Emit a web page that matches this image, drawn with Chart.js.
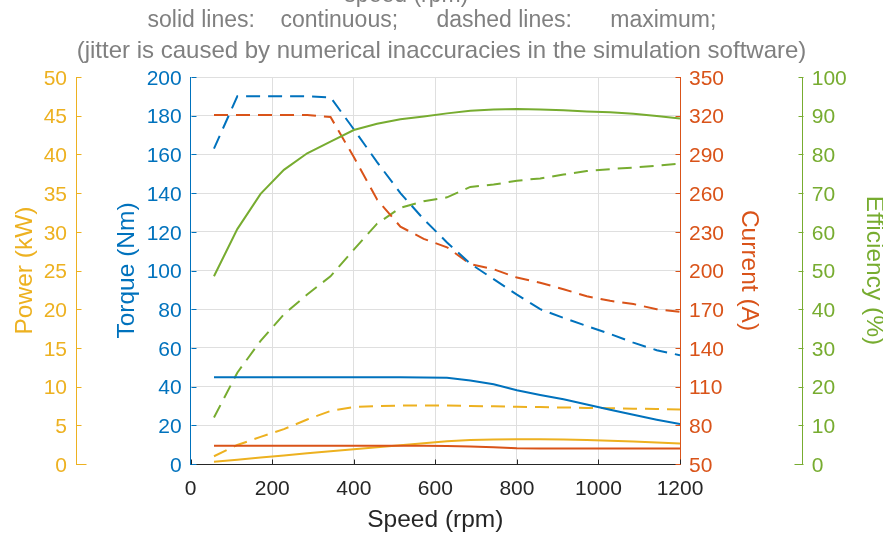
<!DOCTYPE html>
<html>
<head>
<meta charset="utf-8">
<script src="https://cdn.jsdelivr.net/npm/chart.js@4.4.1/dist/chart.umd.min.js"></script>
<style>
  html, body { margin: 0; padding: 0; background: #fff; overflow: hidden; }
  #wrap { width: 883px; height: 550px; margin-top: -17px; }
</style>
</head>
<body>
<div id="wrap"><canvas id="chart" width="883" height="550"></canvas></div>
<script>
// speed points (rpm)
const speed = [57.1, 114.3, 171.4, 228.6, 285.7, 342.9, 400, 457.1, 514.3, 571.4, 628.6,
  685.7, 742.9, 800, 857.1, 914.3, 971.4, 1028.6, 1085.7, 1142.9, 1200];

// continuous (solid) values
const torqueCont = [44.8, 44.8, 44.8, 44.8, 44.8, 44.8, 44.8, 44.8, 44.8, 44.7, 44.6,
  43.2, 41.2, 38.1, 35.7, 33.5, 30.8, 28.0, 25.4, 22.9, 20.6];
const currentCont = [64.2, 64.2, 64.2, 64.2, 64.2, 64.2, 64.2, 64.2, 64.2, 64.2, 64.0,
  63.6, 63.0, 62.3, 62.1, 62.1, 62.0, 62.0, 62.0, 62.0, 62.0];
const powerCont = [0.28, 0.55, 0.83, 1.1, 1.38, 1.65, 1.9, 2.15, 2.42, 2.68, 2.93,
  3.09, 3.17, 3.2, 3.2, 3.16, 3.1, 3.0, 2.9, 2.78, 2.65];
const effCont = [48.5, 60.7, 69.8, 76.0, 80.3, 83.3, 86.3, 87.9, 89.1, 89.8, 90.6,
  91.3, 91.6, 91.75, 91.6, 91.4, 91.1, 90.9, 90.5, 89.9, 89.3];

// maximum (dashed) values
const torqueMax = [163, 190, 190, 190, 190, 189.5, 173, 156, 140, 126.5, 114.5,
  103.5, 95.5, 87.5, 80, 75.5, 71.3, 67.2, 62.7, 58.8, 56.2];
const currentMax = [320.5, 320.5, 320.5, 320.5, 320.5, 319, 288, 255, 234, 224.5, 218,
  205, 201, 194.5, 190.5, 185.5, 180, 176.5, 174, 170, 168];
const powerMax = [1.0, 2.45, 3.5, 4.5, 5.75, 6.85, 7.35, 7.5, 7.55, 7.55, 7.55,
  7.5, 7.45, 7.4, 7.35, 7.3, 7.25, 7.2, 7.15, 7.1, 7.05];
const effMax = [12, 23.6, 31.8, 38.7, 43.8, 48.5, 55.4, 62.1, 66.2, 67.9, 68.9,
  71.6, 72.2, 73.2, 73.8, 74.8, 75.7, 76.2, 76.6, 77.1, 77.6];

// axis ranges: [min, max, step]
const speedRange = [0, 1200, 200];
const powerRange = [0, 50, 5];
const torqueRange = [0, 200, 20];
const currentRange = [50, 350, 30];
const effRange = [0, 100, 10];

const sp = (n) => "\u00a0".repeat(n);
const titleLines = [
  "speed (rpm)" + sp(11),
  "solid lines:" + sp(4) + "continuous;" + sp(6) + "dashed lines:" + sp(6) + "maximum;" + sp(3)
];
const note = "(jitter is caused by numerical inaccuracies in the simulation software)";

const blue = "#0072BD", red = "#D95319", yellow = "#EDB120", green = "#77AC30";
const FONT = "'Liberation Sans', Arial, sans-serif";

function series(values, axis, color, dashed) {
  return {
    data: speed.map((s, i) => ({ x: s, y: values[i] })),
    yAxisID: axis,
    borderColor: color,
    borderWidth: 2,
    borderDash: dashed ? [14, 8] : [],
    pointRadius: 0,
    tension: 0,
    fill: false
  };
}

// ticks pointing into the plot, like the original
const inwardTicks = {
  id: "inwardTicks",
  afterDraw(chart) {
    const ctx = chart.ctx;
    ctx.save();
    ctx.lineWidth = 1;
    Object.values(chart.scales).forEach(scale => {
      ctx.strokeStyle = scale.options.border.color;
      scale.ticks.forEach((t, i) => {
        const p = Math.round(scale.getPixelForTick(i)) + 0.5;
        ctx.beginPath();
        if (scale.isHorizontal()) {
          const y = Math.round(scale.top) + 0.5;
          ctx.moveTo(p, y);
          ctx.lineTo(p, y - 5);
        } else if (scale.position === "left") {
          const x = Math.round(scale.right) + 0.5;
          const len = (scale.id === "power" && i === 0) ? 10 : 5;
          ctx.moveTo(x, p);
          ctx.lineTo(x + len, p);
        } else {
          const x = Math.round(scale.left) + 0.5;
          const len = (scale.id === "eff" && i === 0) ? 9 : 5;
          ctx.moveTo(x, p);
          ctx.lineTo(x - len, p);
        }
        ctx.stroke();
      });
    });
    ctx.restore();
  }
};

function yAxis(range, color, position, weight, width, label, titlePad, grid) {
  return {
    type: "linear",
    position: position,
    weight: weight,
    min: range[0],
    max: range[1],
    afterFit: (s) => { s.width = width; },
    border: { display: true, color: color, width: 1 },
    grid: { display: grid, drawOnChartArea: grid, drawTicks: false, color: "#dfdfdf", lineWidth: 1 },
    ticks: { stepSize: range[2], color: color, padding: 9, labelOffset: 2, autoSkip: false, font: { family: FONT, size: 21 } },
    title: { display: true, text: label, color: color, font: { family: FONT, size: 24.5, lineHeight: 1 }, padding: { top: titlePad, bottom: 0 } }
  };
}

new Chart(document.getElementById("chart"), {
  type: "line",
  data: {
    datasets: [
      series(torqueCont, "torque", blue, false),
      series(currentCont, "current", red, false),
      series(powerCont, "power", yellow, false),
      series(effCont, "eff", green, false),
      series(torqueMax, "torque", blue, true),
      series(currentMax, "current", red, true),
      series(powerMax, "power", yellow, true),
      series(effMax, "eff", green, true)
    ]
  },
  options: {
    responsive: false,
    devicePixelRatio: 1,
    animation: false,
    layout: { padding: 0 },
    plugins: {
      legend: { display: false },
      tooltip: { enabled: false },
      title: {
        display: true, text: titleLines, color: "#808080",
        font: { family: FONT, size: 23, weight: "normal", lineHeight: "25.3px" },
        padding: { top: 0, bottom: 0 }
      },
      subtitle: {
        display: true, text: note, color: "#808080",
        font: { family: FONT, size: 24, weight: "normal", lineHeight: "27px" },
        padding: { top: 4.6, bottom: 11.8 }
      }
    },
    scales: {
      x: {
        type: "linear",
        min: speedRange[0],
        max: speedRange[1],
        afterFit: (s) => { s.height = 69; },
        border: { display: true, color: "#262626", width: 1 },
        grid: { drawTicks: false, color: "#dfdfdf", lineWidth: 1 },
        ticks: {
          stepSize: speedRange[2], color: "#262626", padding: 13, maxRotation: 0,
          font: { family: FONT, size: 21 },
          callback: (v) => String(v)
        },
        title: { display: true, text: "Speed (rpm)", color: "#262626", font: { family: FONT, size: 24.5, lineHeight: 1 }, padding: { top: 0, bottom: 0.75 } }
      },
      power: yAxis(powerRange, yellow, "left", 2, 76, "Power (kW)", 12.75, false),
      torque: yAxis(torqueRange, blue, "left", 1, 114.7, "Torque (Nm)", 38.75, true),
      current: yAxis(currentRange, red, "right", 1, 122.7, "Current (A)", 41.95, false),
      eff: yAxis(effRange, green, "right", 2, 80.3, "Efficiency (%)", -3.25, false)
    }
  },
  plugins: [inwardTicks]
});
</script>
</body>
</html>
